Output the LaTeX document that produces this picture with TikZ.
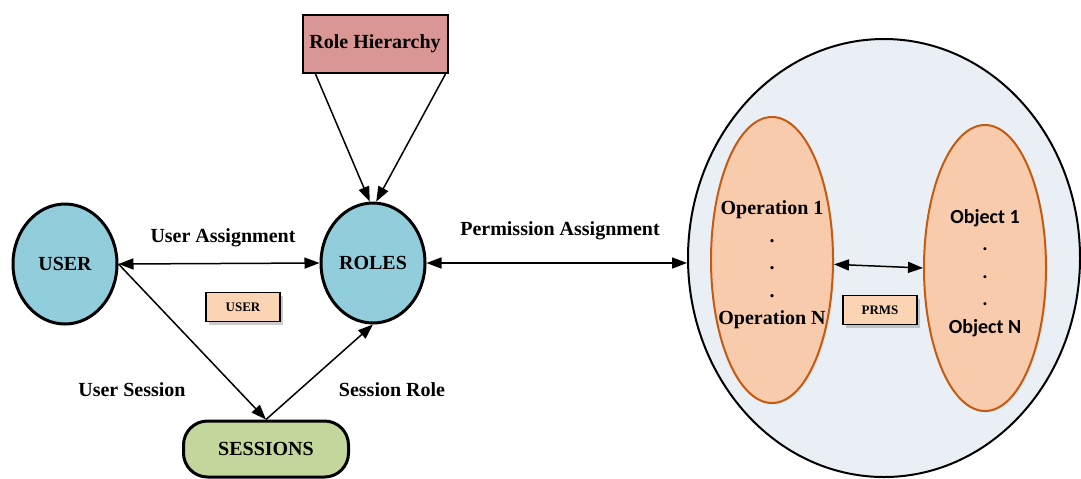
\documentclass[tikz,border=0pt]{standalone}
\usepackage{fontspec}
\setmainfont{Liberation Serif}
\newfontfamily\calib{Carlito}
\usepackage{xcolor}
\usetikzlibrary{arrows.meta,shapes,shadows,positioning}

\definecolor{circblue}{HTML}{92CDDC}
\definecolor{hierred}{HTML}{D99694}
\definecolor{sessgreen}{HTML}{C3D69B}
\definecolor{peach}{HTML}{FBD4B4}
\definecolor{setfill}{HTML}{F8CBAD}
\definecolor{setorange}{HTML}{C55A11}
\definecolor{permfill}{HTML}{E9EFF5}

\begin{document}
\begin{tikzpicture}[x=0.5pt,y=-0.5pt,
  circ/.style={ellipse,draw,line width=1.5pt,fill=circblue,minimum width=52pt,minimum height=60pt,inner sep=0pt,font=\bfseries},
  smallbox/.style={draw,fill=peach,line width=0.8pt,minimum width=37pt,minimum height=14.5pt,inner sep=0pt,
    font=\bfseries\fontsize{6.5}{8}\selectfont,drop shadow={shadow xshift=1.5pt,shadow yshift=-1.5pt,fill=black!40}},
  setell/.style={ellipse,draw=setorange,line width=1pt,fill=setfill,minimum width=61pt,minimum height=143pt,inner sep=0pt,
    drop shadow={shadow xshift=1pt,shadow yshift=-1pt,fill=circblue!60}},
  settext/.style={align=center,font=\bfseries\fontsize{10}{13.75}\selectfont},
  lbl/.style={font=\bfseries},
  link/.style={line width=0.75pt,-{Triangle[length=7.5pt,width=5.5pt]}},
  dlink/.style={line width=0.75pt,{Triangle[length=7.5pt,width=5.5pt]}-{Triangle[length=7.5pt,width=5.5pt]}}]

\useasboundingbox (0,0) rectangle (1081,478);

	\node[ellipse,draw,line width=1pt,fill=permfill,minimum width=196pt,minimum height=219pt] (perm) at (884,258) {};% permissions
	\node[setell] (oper) at (772,260) {};% operations
	\node[setell] (obj) at (985,268) {};% objects
	\node[settext] (opertxt) at (772,265) {Operation 1\\.\\.\\.\\Operation N};
	\node[settext,font=\calib\bfseries\fontsize{10}{13.75}\selectfont] (objtxt) at (985,273) {Object 1\\.\\.\\.\\Object N};
	\node[smallbox] (prms) at (880,310) {PRMS};

	\node[circ] (user) at (65,264) {USER};
	\node[circ] (roles) at (373,263) {ROLES};
	\node[draw,line width=1pt,fill=hierred,minimum width=72.5pt,minimum height=29pt,font=\bfseries] (hier) at (375,44) {Role Hierarchy};
	\node[draw,line width=1.5pt,rounded corners=12pt,fill=sessgreen,minimum width=82.5pt,minimum height=28pt,font=\bfseries] (sess) at (266,449) {SESSIONS};
	\node[smallbox] (usbox) at (243,307) {USER};

	\node[lbl] (ualbl) at (223,238) {User Assignment};
	\node[lbl] (palbl) at (560,231) {Permission Assignment};
	\node[lbl] (uslbl) at (132,390) {User Session};
	\node[lbl] (srlbl) at (392,390) {Session Role};

\draw[link] ([xshift=7pt]hier.south west) -- (roles.93);% left hierarchy arrow
\draw[link] ([xshift=-1.5pt]hier.south east) -- (roles.87);% right hierarchy arrow
\draw[dlink] (user.east) -- (roles.west);
\draw[link] (user.east) -- (sess.north);
\draw[link] (sess.north) -- (roles.south);
\draw[dlink] (roles.east) -- (roles.east -| perm.west);
\draw[dlink] (oper.-4) -- (obj.west);

\end{tikzpicture}
\end{document}
